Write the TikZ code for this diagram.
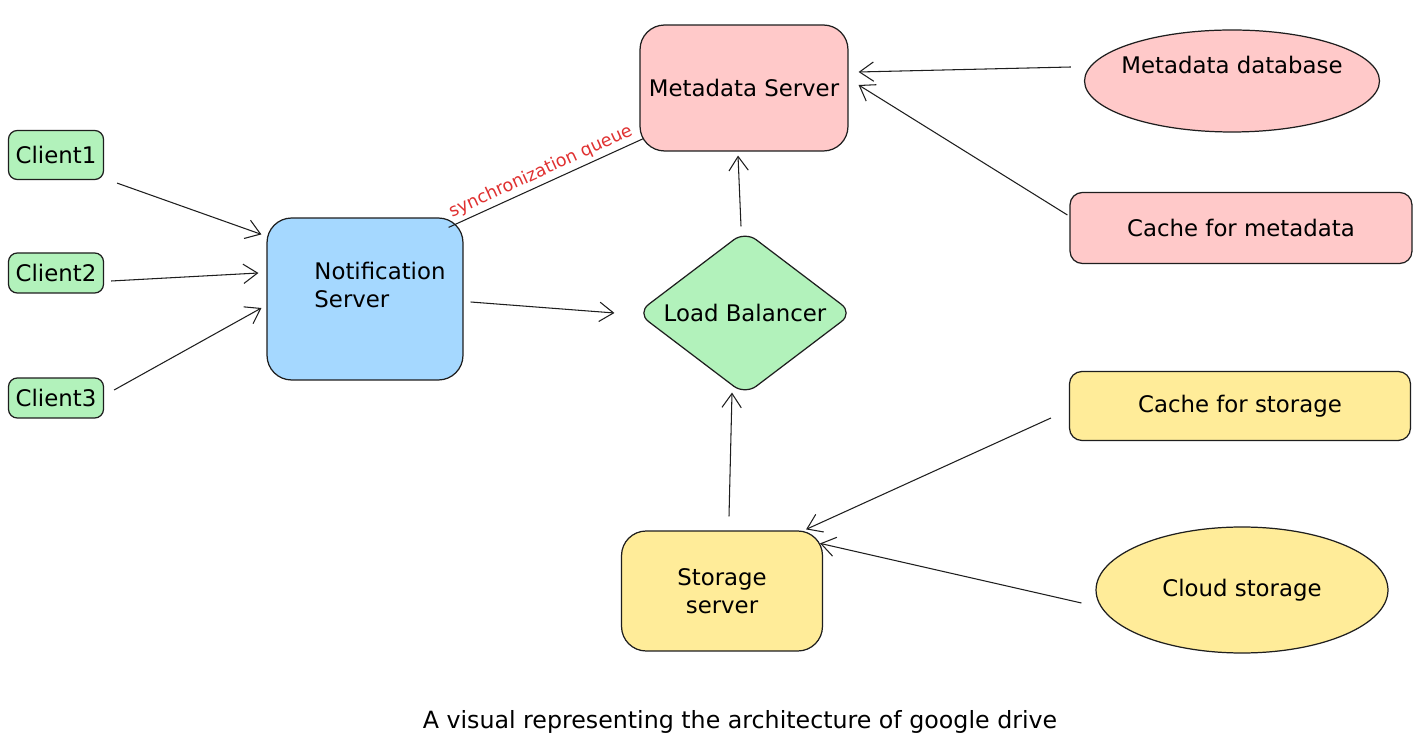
\documentclass[tikz,border=0pt]{standalone}
\usepackage{fontspec}
\setmainfont{DejaVu Sans}
\usetikzlibrary{arrows.meta,calc,shapes.geometric}

\definecolor{stroke}{HTML}{1E1E1E}
\definecolor{greenfill}{HTML}{B2F2BB}
\definecolor{bluefill}{HTML}{A5D8FF}
\definecolor{pinkfill}{HTML}{FFC9C9}
\definecolor{yellowfill}{HTML}{FFEC99}
\definecolor{syncred}{HTML}{E03131}

\tikzset{
  box/.style={draw=stroke, line width=0.7pt, rounded corners=14pt, inner sep=0pt,
    font=\fontsize{13}{16}\selectfont},
  clientbox/.style={box, fill=greenfill, rounded corners=5pt, minimum width=1.9cm},
  cachebox/.style={box, rounded corners=7pt},
  oval/.style={box, ellipse},
  arr/.style={draw=stroke, line width=0.6pt, -{Straight Barb[length=8pt,width=11pt]}},
}

\begin{document}
\begin{tikzpicture}[x=0.02cm, y=-0.02cm]
    \fill[white] (0,0) rectangle (1416,742);
    \useasboundingbox (0,0) rectangle (1416,742);

    % clients
    \node[clientbox, minimum height=0.98cm] (client1) at (56,155) {Client1};
    \node[clientbox, minimum height=0.8cm] (client2) at (56,273) {Client2};
    \node[clientbox, minimum height=0.8cm] (client3) at (56,398) {Client3};

    % servers
    \node[box, fill=bluefill, minimum width=3.92cm, minimum height=3.24cm,
      label={[align=left, xshift=0.3cm, yshift=0.28cm, font=\fontsize{13}{16}\selectfont]center:Notification\\Server}]
      (notif) at (365,299) {};
    \node[box, fill=pinkfill, minimum width=4.16cm, minimum height=2.52cm] (metaserver) at (744,88) {Metadata Server};
    \node[box, diamond, aspect=1.32, fill=greenfill, rounded corners=8pt,
      minimum width=4.32cm, minimum height=3.28cm] (balancer) at (745,313) {Load Balancer};
    \node[box, fill=yellowfill, minimum width=4.02cm, minimum height=2.4cm, align=center]
      (storeserver) at (722,591) {Storage\\server};

    % metadata side
    \node[oval, fill=pinkfill, minimum width=5.9cm, minimum height=2.04cm,
      label={[yshift=0.32cm, font=\fontsize{13}{16}\selectfont]center:Metadata database}]
      (metadb) at (1232,81) {};
    \node[cachebox, fill=pinkfill, minimum width=6.84cm, minimum height=1.42cm] (metacache) at (1241,228) {Cache for metadata};

    % storage side
    \node[cachebox, fill=yellowfill, minimum width=6.82cm, minimum height=1.38cm] (storecache) at (1240,406) {Cache for storage};
    \node[oval, fill=yellowfill, minimum width=5.84cm, minimum height=2.52cm] (cloud) at (1242,590) {Cloud storage};

    % caption
    \node[font=\fontsize{13.5}{16}\selectfont] (caption) at (740,722) {A visual representing the architecture of google drive};

    % connectors
    \draw[arr] ($(client1.south east)+(13,3)$) -- ($(notif.north west)+(-5,17)$);
    \draw[arr] ($(client2.east)+(7,8)$) -- ($(notif.west)+(-8,-26)$);
    \draw[arr] ($(client3.east)+(10,-8)$) -- ($(notif.west)+(-5,9)$);

    \draw[draw=stroke, line width=0.6pt] ($(notif.north east)+(-15,10)$) -- ($(metaserver.south west)+(4,-13)$)
      node[midway, above, sloped, inner sep=2pt, text=syncred, font=\fontsize{10}{12}\selectfont] {synchronization queue};

    \draw[arr] ($(notif.east)+(7,3)$) -- ($(balancer.west)+(-22,0)$);
    \draw[arr] ($(balancer.north)+(-4,-4)$) -- ($(metaserver.south)+(-6,4)$);
    \draw[arr] ($(metadb.west)+(-13,-14)$) -- ($(metaserver.east)+(10,-16)$);
    \draw[arr] ($(metacache.west)+(-2,-13)$) -- ($(metaserver.east)+(10,-3)$);

    \draw[arr] ($(storeserver.north)+(7,-14)$) -- ($(balancer.south)+(-13,-3)$);
    \draw[arr] ($(storecache.west)+(-18,12)$) -- ($(storeserver.north east)+(-17,-1)$);
    \draw[arr] ($(cloud.west)+(-14,13)$) -- ($(storeserver.north east)+(-3,13)$);

\end{tikzpicture}
\end{document}
